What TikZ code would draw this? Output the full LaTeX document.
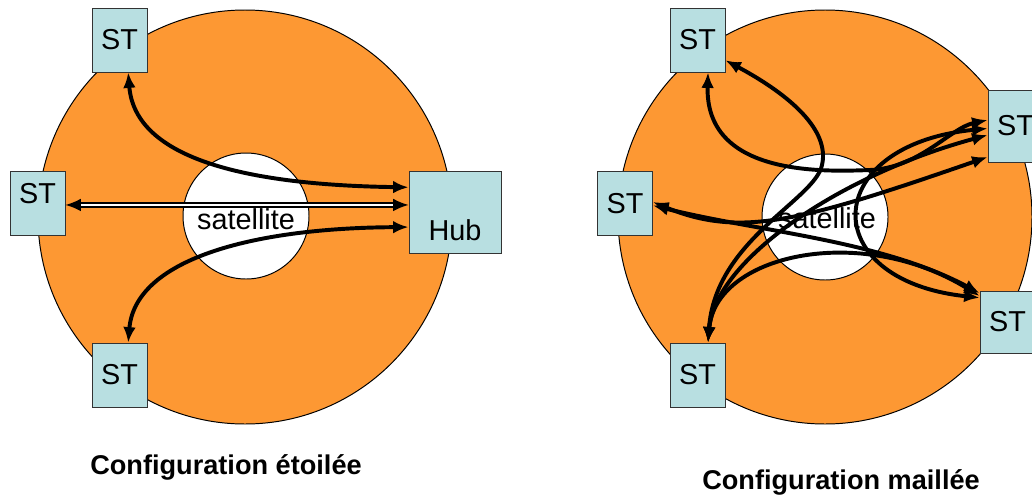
\documentclass[tikz,border=0pt]{standalone}
\usepackage{fontspec}
\setmainfont{Liberation Sans}
\usetikzlibrary{arrows.meta}
\definecolor{dish}{RGB}{253,152,51}
\definecolor{stbox}{RGB}{184,223,225}

\begin{document}
\begin{tikzpicture}[x=0.025cm,y=-0.025cm,
    every node/.style={inner sep=0pt},
    st/.style={draw=black!80,line width=0.6pt,fill=stbox,minimum width=1.375cm,minimum height=1.6cm,font=\fontsize{20.5}{24}\selectfont},
    lbl/.style={font=\fontsize{20.5}{24}\selectfont},
    captxt/.style={font=\bfseries\fontsize{19.3}{23}\selectfont},
    >={Latex[length=11pt,width=9pt]},
    link/.style={line width=2.8pt,<->},
    dbl/.style={double,double distance=1.6pt,line width=1.1pt,<->}]
    \useasboundingbox (0,0) rectangle (1032,494);
    \clip (0,0) rectangle (1032,494);
    \draw [fill=dish,line width=0.7pt] (245,217) circle (207);
    \draw [fill=white,line width=0.7pt] (246,216) circle (63);
    \draw [fill=dish,line width=0.7pt] (825,217) circle (207);
    \draw [fill=white,line width=0.7pt] (825,217) circle (63);
    \node [lbl] (sat1) at (246,219) {satellite};
    \node [lbl] (sat2) at (827,218) {satellite};
    \node [st] (tl) at (119.5,40) {ST};
    \node [st,text height=0.8cm,text depth=0.8cm] (ll) at (37.5,203) {ST};
    \node [st] (bl) at (119.5,375) {ST};
    \node [st,minimum width=2.3cm,minimum height=2.05cm,text height=1.725cm,text depth=0.325cm] (hub) at (455,212) {Hub};
    \node [st] (tr) at (697.5,40) {ST};
    \node [st] (lr) at (625,203.5) {ST};
    \node [st] (br) at (697.5,375) {ST};
    \node [st,minimum height=1.8cm] (rt) at (1015.5,126) {ST};
    \node [st,minimum height=1.55cm] (rb) at (1007.5,322) {ST};
    \draw [link] (tl.-75) .. controls (135,160) and (250,185) .. (hub.152);
    \draw [dbl] (ll.-4) -- (ll.-4 -| hub.west);
    \draw [link] (bl.75) .. controls (135,260) and (250,228) .. (hub.198);
    \draw [link] (tr.-36) .. controls (790,95) and (830,130) .. (822,165) .. controls (815,200) and (715,240) .. (br.72);
    \draw [link] (tr.-72) .. controls (705,175) and (820,172) .. (870,170) .. controls (920,168) and (950,128) .. (rt.168);
    \draw [link] (lr.3) .. controls (740,238) and (800,222) .. (rt.228);
    \draw [link] (lr.-4) .. controls (760,232) and (880,240) .. (rb.134);
    \draw [link] (br.72) .. controls (715,260) and (840,175) .. (rt.198);
    \draw [link] (rt.185) .. controls (820,145) and (815,280) .. (rb.139);
    \draw [link] (br.72) .. controls (715,255) and (860,222) .. (rb.137);
    \node [captxt] (cap1) at (226,467) {Configuration étoilée};
    \node [captxt] (cap2) at (841,482) {Configuration maillée};
\end{tikzpicture}
\end{document}
